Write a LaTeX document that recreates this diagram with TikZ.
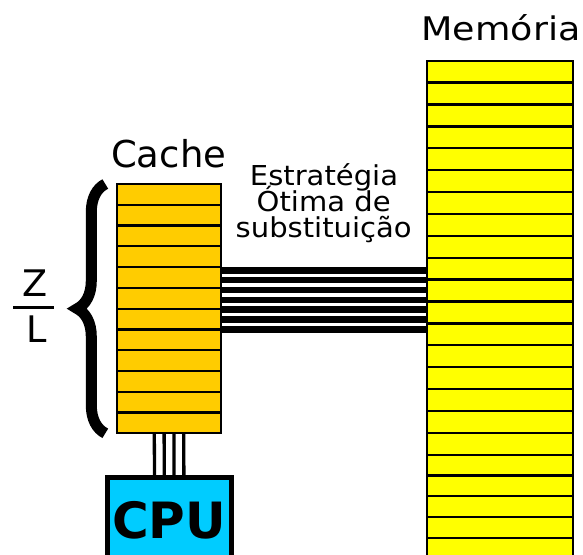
\documentclass[tikz,border=0pt]{standalone}
\usepackage{fontspec}
\setmainfont{DejaVu Sans}
\usepackage{tikz}
\usetikzlibrary{calc, decorations.pathreplacing}

\definecolor{cacheorange}{RGB}{255,204,0}
\definecolor{memyellow}{RGB}{255,255,0}
\definecolor{cpublue}{RGB}{0,204,255}

\begin{document}
\begin{tikzpicture}[x=1pt, y=-1pt,
        cacherow/.style={draw=black, line width=2.3pt, fill=cacheorange},
        memrow/.style={draw=black, line width=2.3pt, fill=memyellow},
        block/.style={inner sep=0pt, outer sep=0pt},
        wire/.style={line width=6.5pt},
        cpuwire/.style={line width=3.3pt},
        lbl/.style={inner sep=0pt, anchor=base}]
            \useasboundingbox (0,0) rectangle (583,554);
            \clip (0,0) rectangle (583,554);
            \node[block, minimum width=145.4pt, minimum height=500pt] (mem) at (500,310.7) {};
            \node[block, minimum width=103.4pt, minimum height=249.3pt] (cache) at (169,308.65) {};
            \foreach \i in {0,...,17}
                \draw[memrow] ($(mem.north west)+(0,\i*21.89)$) rectangle +(145.4,21.89);
            \foreach \i in {0,...,4}
                \draw[memrow] ($(mem.north west)+(0,394+\i*20.8)$) rectangle +(145.4,20.8);
            \foreach \i in {0,...,11}
                \draw[cacherow] ($(cache.north west)+(0,\i*20.775)$) rectangle +(103.4,20.775);
            \node[block, draw, line width=5pt, fill=cpublue, minimum width=124pt, minimum height=85.6pt,
                font=\bfseries\fontsize{50}{50}\selectfont] (cpu) at (169.2,520) {CPU};
            \foreach \k [evaluate=\k as \yy using 270.3+\k*9.83] in {0,...,6}
                \draw[wire] (cache.east |- 0,\yy) -- (mem.west |- 0,\yy);
            \foreach \dx in {-14.7,-4.9,4.9,14.7}
                \draw[cpuwire] ([xshift=\dx pt]cache.south) -- ([xshift=\dx pt]cpu.north);
            %\draw[red] (cache.north west) rectangle (cache.south east);
            \node[lbl, font=\fontsize{37}{37}\selectfont] (cachelbl) at (168.7,167.7) {Cache};
            \node[lbl, font=\fontsize{32.5}{32.5}\selectfont] (memlbl) at (501,40) {\scalebox{1.12}[1]{Memória}};
            \node[lbl, font=\fontsize{27.4}{27.4}\selectfont] (strat1) at (324,185) {\scalebox{1.06}[1]{Estratégia}};
            \node[lbl, font=\fontsize{27.4}{27.4}\selectfont] (strat2) at (323.7,211) {\scalebox{1.06}[1]{Ótima de}};
            \node[lbl, font=\fontsize{27.4}{27.4}\selectfont] (strat3) at (323.7,237) {\scalebox{1.06}[1]{substituição}};
            \draw[line width=11pt, decorate, decoration={brace, amplitude=28pt}]
                ([xshift=-12pt]cache.south west) -- ([xshift=-12pt]cache.north west);
            \node[lbl, font=\fontsize{36.6}{36.6}\selectfont] (zlbl) at (35.5,296.7) {Z};
            \node[lbl, font=\fontsize{36.6}{36.6}\selectfont] (llbl) at (36.5,342.7) {L};
            \draw[line width=2.7pt] (13.3,307.7) -- (54,307.7);
        \end{tikzpicture}
\end{document}
